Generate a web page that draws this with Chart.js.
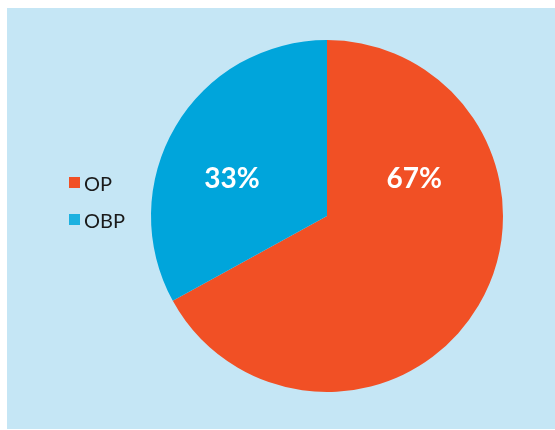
<!DOCTYPE html>
<html>
<head>
<meta charset="utf-8">
<script src="https://cdn.jsdelivr.net/npm/chart.js@4.4.1/dist/chart.umd.min.js"></script>
<style>
  html, body { margin: 0; padding: 0; background: #ffffff; }
  body { width: 555px; height: 430px; position: relative; overflow: hidden; }
  #panel {
    position: absolute; left: 7px; top: 8px; width: 548px; height: 421px;
    background: #c5e6f5;
  }
  #panel canvas { position: absolute; left: 0; top: 0; }
  #legend {
    position: absolute; left: 62px; top: 156px; margin: 0; padding: 0;
    list-style: none; font-family: "Lato", "Open Sans", sans-serif;
    font-size: 20px; color: #1a1a1a;
  }
  #legend li { height: 37px; line-height: 24px; display: flex; align-items: center; }
  #legend span.box { width: 11px; height: 11px; margin-right: 4px; display: inline-block; }
</style>
</head>
<body>
<div id="panel">
  <canvas id="chart" width="548" height="421"></canvas>
  <ul id="legend"></ul>
</div>
<script>
const labels = ["OP", "OBP"];
const values = [67, 33];
const colors = ["#f15025", "#00a5db"];
const legendColors = ["#f15025", "#1cb1e0"];

// legend on the left, built from the same arrays
const legendEl = document.getElementById("legend");
labels.forEach((label, i) => {
  const li = document.createElement("li");
  const box = document.createElement("span");
  box.className = "box";
  box.style.background = legendColors[i];
  li.appendChild(box);
  li.appendChild(document.createTextNode(label));
  legendEl.appendChild(li);
});

// percentage text, drawn on a line above the centre of the pie
const percentLabels = {
  id: "percentLabels",
  afterDatasetsDraw(chart, args, opts) {
    const meta = chart.getDatasetMeta(0);
    const total = values.reduce((a, b) => a + b, 0);
    const ctx = chart.ctx;
    ctx.save();
    ctx.fillStyle = "#ffffff";
    ctx.font = "bold 28px Lato, 'Open Sans', sans-serif";
    ctx.textAlign = "center";
    ctx.textBaseline = "middle";
    meta.data.forEach((arc, i) => {
      const r = arc.outerRadius;
      const x = arc.x + opts.dx[i] * r;
      const y = arc.y + opts.dy * r;
      ctx.fillText(Math.round((values[i] / total) * 100) + "%", x, y);
    });
    ctx.restore();
  },
};

const ctx = document.getElementById("chart").getContext("2d");
new Chart(ctx, {
  type: "pie",
  data: {
    labels: labels,
    datasets: [
      {
        data: values,
        backgroundColor: colors,
        borderWidth: 0,
      },
    ],
  },
  options: {
    responsive: false,
    animation: false,
    layout: {
      padding: { left: 144, right: 52, top: 32, bottom: 37 },
    },
    plugins: {
      legend: { display: false },
      tooltip: { enabled: false },
      percentLabels: { dx: [0.495, -0.54], dy: -0.21 },
    },
  },
  plugins: [percentLabels],
});
</script>
</body>
</html>
